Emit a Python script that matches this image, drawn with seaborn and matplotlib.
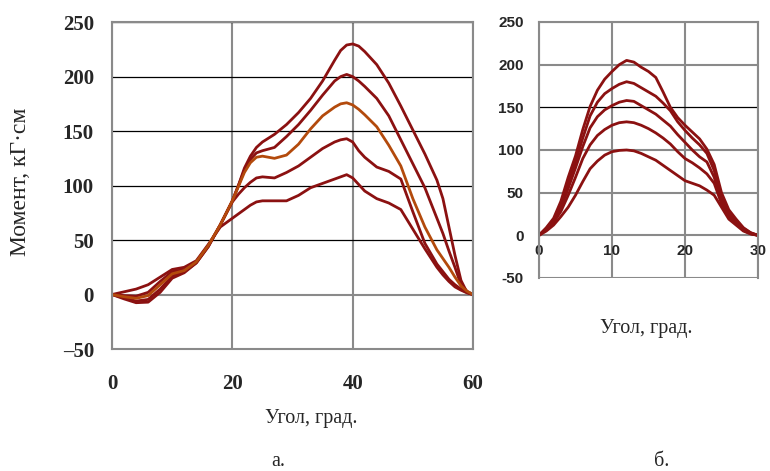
import matplotlib
matplotlib.use('Agg')
import matplotlib.pyplot as plt
import seaborn as sns

# ---- panel a: moment vs angle, 0..60 deg ----
angle_a = [0, 2, 4, 6, 8, 10, 12, 14, 16, 18, 20, 21, 22, 23, 24, 25, 27, 29, 31, 33,
           35, 37, 38, 39, 40, 41, 42, 44, 46, 48, 50, 52, 54, 55, 56, 57, 58, 59, 60]
a_curve1 = [0, -4, -7.5, -7, 2, 15, 20, 29, 44, 64, 86, 100, 116, 127, 135, 140, 147, 156, 167, 180,
            196, 215, 224, 229, 230, 228, 223, 211, 194, 173, 151, 129, 105, 88, 62, 36, 13, 2, 0]
a_curve2 = [0, -3, -6, -4.5, 5, 17, 21, 29, 44, 64, 86, 100, 114, 124, 130, 132, 135, 145, 156, 169,
            183, 196, 200, 202, 200, 196, 191, 180, 164, 142, 120, 98, 70, 56, 40, 25, 9, 3, 0]
a_curve3 = [0, -2, -3.5, -1, 9, 19, 22, 30, 45, 64, 86, 99, 112, 121, 126, 127, 125, 128, 138, 152,
            164, 172, 175, 176, 174, 170, 165, 154, 137, 118, 88, 62, 41, 33, 25, 16, 8, 3, 0]
a_curve4 = [0, -1, -1.5, 2, 12, 21, 23, 30, 45, 64, 85, 92, 98, 103, 107, 108, 107, 112, 118, 126,
            134, 140, 142, 143, 140, 132, 126, 117, 113, 106, 76, 47, 28, 21, 14, 9, 5, 2, 0]
a_curve5 = [0, 2.5, 5, 9, 16, 23, 25, 31, 46, 62, 70, 74, 78, 82, 85, 86, 86, 86, 91, 98,
            102, 106, 108, 110, 107, 101, 95, 88, 84, 78, 60, 42, 25, 18, 12, 7, 4, 1.5, 0]

# ---- panel b: moment vs angle, 0..30 deg ----
angle_b = [0, 1, 2, 3, 4, 5, 6, 7, 8, 9, 10, 11, 12, 13, 14, 15, 16, 17, 18, 19, 20, 21, 22, 23,
           24, 25, 26, 27, 28, 29, 30]
b_curve1 = [0, 9, 20, 40, 68, 93, 124, 151, 170, 183, 192, 200, 205, 203, 197, 192, 185, 168, 150, 138,
            129, 121, 113, 101, 83, 50, 30, 19, 9, 3, 0]
b_curve2 = [0, 8, 18, 36, 62, 86, 114, 140, 156, 166, 172, 177, 180, 178, 173, 168, 163, 155, 146, 133,
            123, 114, 106, 96, 76, 44, 27, 17, 8, 3, 0]
b_curve3 = [0, 8, 17, 32, 55, 79, 104, 126, 139, 147, 152, 156, 158, 157, 152, 147, 142, 135, 128, 118,
            109, 100, 92, 86, 68, 40, 24, 15, 7, 2, 0]
b_curve4 = [0, 7, 15, 28, 47, 68, 90, 106, 117, 124, 129, 132, 133, 132, 129, 125, 120, 114, 107, 98,
            90, 85, 79, 72, 61, 37, 22, 14, 6, 2, 0]
b_curve5 = [0, 5, 12, 22, 33, 47, 63, 78, 87, 94, 98, 99.5, 100, 99, 96, 92, 88, 82, 76, 70,
            64, 61, 58, 53, 47, 33, 19, 12, 5, 1.5, 0]

ticks_a_x = [0, 20, 40, 60]
ticks_a_y = [-50, 0, 50, 100, 150, 200, 250]
labels_a_y = ['\u201350', '0', '50', '100', '150', '200', '250']
ticks_b_x = [0, 10, 20, 30]
ticks_b_y = [-50, 0, 50, 100, 150, 200, 250]
labels_b_y = ['-50', '0', '50', '100', '150', '200', '250']

RED = '#8b1111'
ORANGE = '#b34a0c'
GRID_GRAY = '#8a8a8a'
SERIF = 'Liberation Serif'
SANS = 'Liberation Sans'

sns.set_style('white')
plt.rcParams['font.family'] = [SERIF, 'DejaVu Serif']

fig = plt.figure(figsize=(7.7, 4.71), dpi=100)
axL = fig.add_axes([0.1455, 0.259, 0.4688, 0.694])
axR = fig.add_axes([0.700, 0.4098, 0.2844, 0.5435])

# panel a curves
for ys, col in [(a_curve5, RED), (a_curve4, RED), (a_curve2, RED), (a_curve1, RED), (a_curve3, ORANGE)]:
    sns.lineplot(x=angle_a, y=ys, color=col, lw=2.0, ax=axL, estimator=None)

axL.set_xlim(0, 60)
axL.set_ylim(-50, 250)
axL.set_xticks(ticks_a_x)
axL.set_yticks(ticks_a_y)
axL.set_yticklabels(labels_a_y)
axL.tick_params(length=0, labelsize=15, pad=13)
axL.tick_params(axis='x', pad=18)
for lab in axL.get_xticklabels() + axL.get_yticklabels():
    lab.set_fontweight('bold')
    lab.set_family(SERIF)
axL.grid(True, axis='x', color=GRID_GRAY, lw=1.5)
axL.grid(True, axis='y', color='black', lw=0.9)
for val, gl in zip(ticks_a_y, axL.get_ygridlines()):
    if val == 0:
        gl.set_color(GRID_GRAY)
        gl.set_linewidth(1.5)
axL.set_axisbelow(True)
for sp in axL.spines.values():
    sp.set_color(GRID_GRAY)
    sp.set_linewidth(1.5)
axL.set_xlabel('')
axL.set_ylabel('')

# panel b curves
for ys in [b_curve5, b_curve4, b_curve3, b_curve2, b_curve1]:
    sns.lineplot(x=angle_b, y=ys, color=RED, lw=2.0, ax=axR, estimator=None)

axR.set_xlim(0, 30)
axR.set_ylim(-50, 250)
axR.set_xticks(ticks_b_x)
axR.set_yticks(ticks_b_y)
axR.set_yticklabels(labels_b_y)
axR.spines['bottom'].set_position(('data', 0))
axR.spines['bottom'].set_visible(False)
axR.tick_params(length=0, labelsize=11, pad=11)
axR.tick_params(axis='x', pad=6)
for lab in axR.get_xticklabels() + axR.get_yticklabels():
    lab.set_fontweight('bold')
    lab.set_family(SANS)
axR.grid(True, color=GRID_GRAY, lw=1.5)
for val, gl in zip(ticks_b_y, axR.get_ygridlines()):
    if val == 150:
        gl.set_color('black')
        gl.set_linewidth(0.9)
axR.set_axisbelow(True)
for side in ['top', 'left', 'right']:
    axR.spines[side].set_color(GRID_GRAY)
    axR.spines[side].set_linewidth(1.5)
axR.set_xlabel('')
axR.set_ylabel('')

# labels
fig.text(21 / 770, 1 - 182 / 471, 'Момент, кГ\u00b7см', rotation=90, fontsize=17,
         family=SERIF, ha='center', va='center')
fig.text(311 / 770, 1 - 418 / 471, 'Угол, град.', fontsize=14.5, family=SERIF,
         ha='center', va='center')
fig.text(646 / 770, 1 - 329 / 471, 'Угол, град.', fontsize=14.5, family=SERIF,
         ha='center', va='center')
fig.text(278 / 770, 1 - 462 / 471, 'а.', fontsize=14.5, family=SERIF, ha='center', va='center')
fig.text(662 / 770, 1 - 462 / 471, 'б.', fontsize=14.5, family=SERIF, ha='center', va='center')

fig.savefig('out.png', dpi=100)
plt.close(fig)
